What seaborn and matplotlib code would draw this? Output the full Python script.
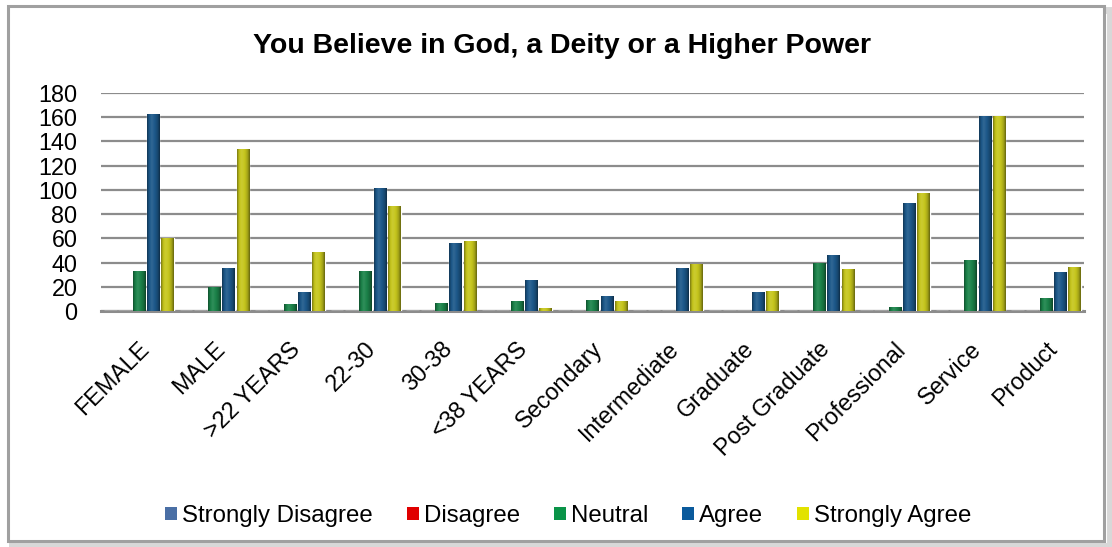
import numpy as np
import pandas as pd
import matplotlib
import matplotlib.pyplot as plt
import matplotlib.colors as mcolors
import matplotlib.transforms as mtransforms
from matplotlib.patches import Rectangle, Patch
import seaborn as sns

matplotlib.use("Agg")

categories = ["FEMALE", "MALE", ">22 YEARS", "22-30", "30-38", "<38 YEARS",
              "Secondary", "Intermediate", "Graduate", "Post Graduate",
              "Professional", "Service", "Product"]
responses = ["Strongly Disagree", "Disagree", "Neutral", "Agree", "Strongly Agree"]
strongly_disagree = [0, 0, 0, 0, 0, 0, 0, 0, 0, 0, 0, 0, 0]
disagree = [0, 0, 0, 0, 0, 0, 0, 0, 0, 0, 0, 0, 0]
neutral = [33, 19, 5, 33, 6, 8, 9, 0, 0, 39, 3, 42, 10]
agree = [162, 35, 15, 101, 56, 25, 12, 35, 15, 46, 89, 161, 32]
strongly_agree = [60, 133, 48, 86, 57, 2, 8, 38, 16, 34, 97, 161, 36]
colors = ["#4A6FA5", "#E00000", "#0A9448", "#0A5A9C", "#E2E200"]

df = pd.DataFrame({
    "group": categories,
    "Strongly Disagree": strongly_disagree,
    "Disagree": disagree,
    "Neutral": neutral,
    "Agree": agree,
    "Strongly Agree": strongly_agree,
}).melt(id_vars="group", var_name="response", value_name="value")

sns.set_theme(style="white")
plt.rcParams["font.family"] = ["Liberation Sans", "DejaVu Sans"]
plt.rcParams["text.color"] = "black"

fig = plt.figure(figsize=(11.12, 5.47), dpi=100)

# outer frame with shadow (drawn below the axes)
fig.patches.append(Rectangle((12 / 1112, 1 - 546 / 547), 1098 / 1112, 536 / 547,
                             transform=fig.transFigure, facecolor="none",
                             edgecolor="#D8D8D8", linewidth=5, zorder=-2))
fig.patches.append(Rectangle((8 / 1112, 1 - 541 / 547), 1096 / 1112, 535 / 547,
                             transform=fig.transFigure, facecolor="white",
                             edgecolor="#A0A0A0", linewidth=2.2, zorder=-1))

ax = fig.add_axes([101 / 1112, 1 - 311 / 547, 983 / 1112, 218 / 547])
ax.set_facecolor("none")

sns.barplot(data=df, x="group", y="value", hue="response", hue_order=responses,
            palette=colors, width=0.945, gap=0.12, order=categories,
            ax=ax, legend=False, zorder=3)


def shade(c, f):
    rgb = np.array(mcolors.to_rgb(c))
    if f < 0:
        return rgb * (1 + f)
    return rgb + (1 - rgb) * f


# cylinder-like shading on each bar
u = np.linspace(0, 1, 40)
prof = np.interp(u, [0, 0.15, 0.35, 0.6, 0.85, 1], [-0.4, -0.05, 0.1, 0.0, -0.2, -0.5])
for patch in list(ax.patches):
    h = patch.get_height()
    if h <= 0:
        continue
    base = patch.get_facecolor()
    grad = np.array([[shade(base[:3], f) for f in prof]])
    x0 = patch.get_x()
    w = patch.get_width()
    ax.imshow(grad, extent=[x0, x0 + w, 0, h], aspect="auto", zorder=4,
              interpolation="bicubic")

ax.set_xlim(-0.5, len(categories) - 0.5)
ax.set_ylim(0, 180)
ax.set_yticks(range(0, 181, 20))
ax.yaxis.grid(True, color="#8C8C8C", linewidth=1.6, zorder=0)
ax.set_axisbelow(True)
for s in ["top", "right", "left"]:
    ax.spines[s].set_visible(False)
ax.spines["bottom"].set_color("#8C8C8C")
ax.spines["bottom"].set_linewidth(2.2)
ax.set_xlabel("")
ax.set_ylabel("")
ax.tick_params(axis="y", length=0, pad=17, labelsize=16.8, labelcolor="black")
ax.tick_params(axis="x", length=0, pad=25, labelsize=16.8, labelcolor="black")
offset = mtransforms.ScaledTranslation(7 / 100, 0, fig.dpi_scale_trans)
for lab in ax.get_xticklabels():
    lab.set_rotation(45)
    lab.set_ha("right")
    lab.set_va("center")
    lab.set_rotation_mode("anchor")
    lab.set_transform(lab.get_transform() + offset)

fig.text(0.505, 1 - 46 / 547, "You Believe in God, a Deity or a Higher Power",
         ha="center", va="center", fontsize=20.5, fontweight="bold")

handles = [Patch(facecolor=c, edgecolor="none") for c in colors]
fig.legend(handles, responses, loc="center", bbox_to_anchor=(0.511, 1 - 516 / 547),
           ncol=5, frameon=False, fontsize=17.3, handlelength=0.5, handleheight=0.5,
           handletextpad=0.22, columnspacing=1.4)

fig.savefig("out.png", dpi=100)
plt.close(fig)
